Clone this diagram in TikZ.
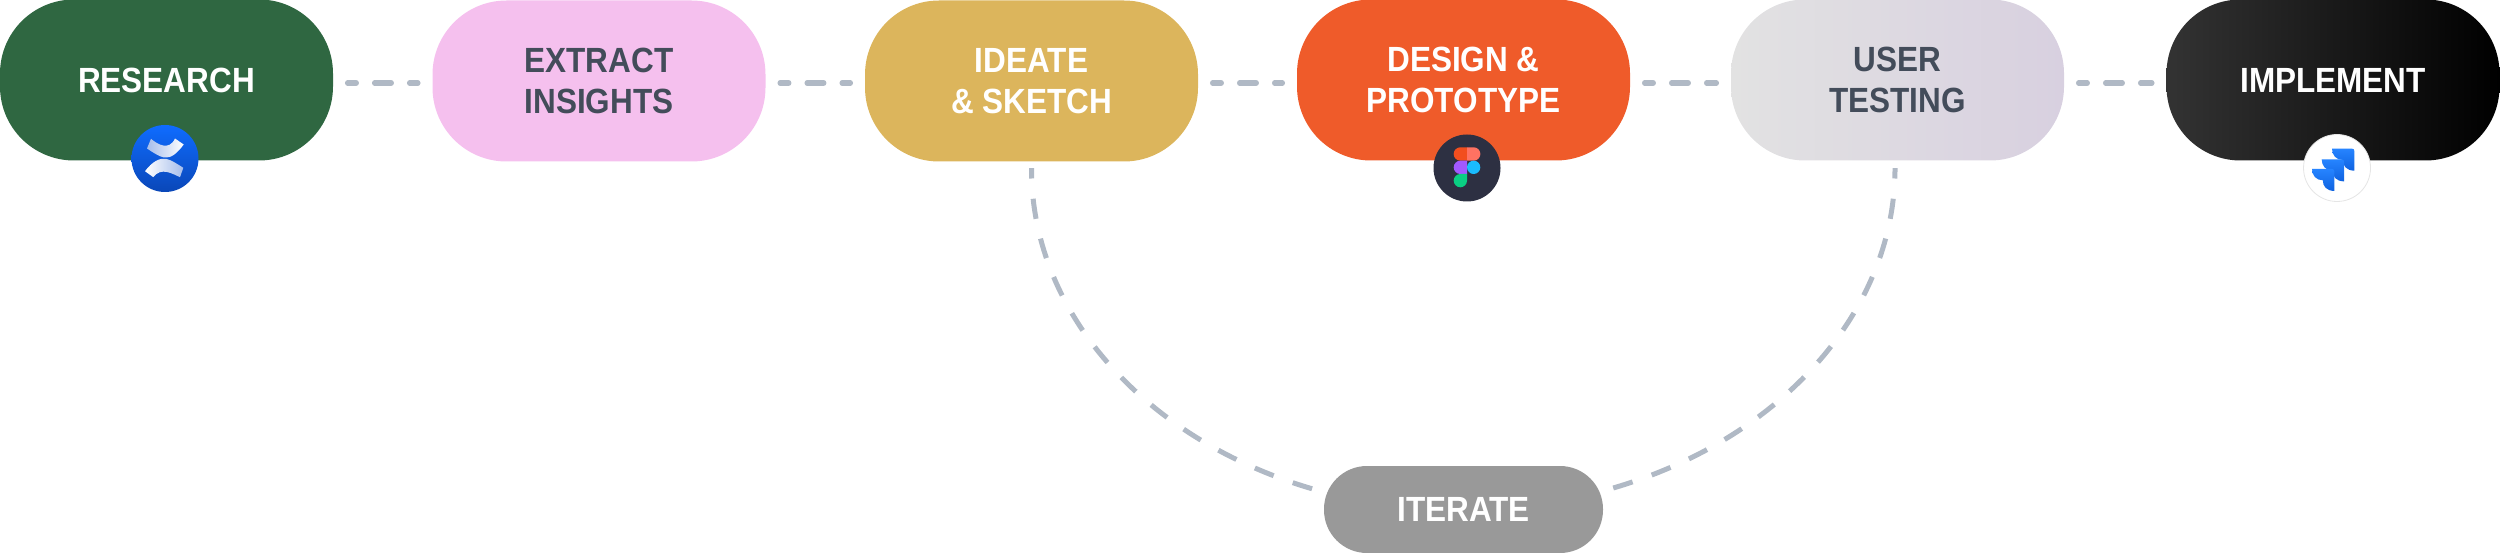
\documentclass[tikz,border=0pt]{standalone}
\usepackage{fontspec}
\setmainfont[FakeStretch=0.9]{Liberation Sans}
\usepackage{tikz}
\definecolor{greenbox}{HTML}{2F6741}
\definecolor{pinkbox}{HTML}{F5C0EE}
\definecolor{yellowbox}{HTML}{DCB55C}
\definecolor{orangebox}{HTML}{EF5B2A}
\definecolor{greybox}{HTML}{999999}
\definecolor{testleft}{HTML}{E2E2E2}
\definecolor{testright}{HTML}{D8D0E0}
\definecolor{implleft}{HTML}{333333}
\definecolor{darktext}{HTML}{434C5A}
\definecolor{dashline}{HTML}{B0B9C5}
\definecolor{confllight}{HTML}{0F6CFF}
\definecolor{confldark}{HTML}{0A47B8}
\definecolor{ribbon}{HTML}{A5BDEB}
\definecolor{figdark}{HTML}{2D3042}
\definecolor{figred}{HTML}{F24E1E}
\definecolor{figsalmon}{HTML}{FF7262}
\definecolor{figpurple}{HTML}{A259FF}
\definecolor{figblue}{HTML}{1ABCFE}
\definecolor{figgreen}{HTML}{0ACF83}
\definecolor{jiralight}{HTML}{2684FF}
\definecolor{jiradark}{HTML}{0F62E0}
\tikzset{
  stage/.style={rectangle, rounded corners=74pt, inner sep=0pt, minimum width=333pt, minimum height=161pt,
    align=center, text=white, font=\fontsize{35}{41}\selectfont\bfseries},
  bond/.style={dashline, line width=5.5pt, line cap=round, shorten <=14.5pt, shorten >=14.5pt,
    dash pattern=on 16.5pt off 18.5pt, dash phase=8pt},
  bendline/.style={dashline, line width=5pt, dash pattern=on 20.3pt off 20.3pt, dash phase=10pt},
  badge/.style={circle, inner sep=0pt, minimum size=67pt},
  jiratab/.pic={
    \shade[top color=jiralight, bottom color=jiradark]
      (-5,-19.3) -- (15,-19.3) .. controls (16.5,-19.3) and (17.3,-18.5) .. (17.3,-17) -- (17.3,2.7)
      .. controls (9.5,2.5) and (5.8,-2) .. (5.8,-8) .. controls (-1,-8) and (-5,-13) .. (-5,-19.3) -- cycle;
  }
}

\begin{document}
\begin{tikzpicture}[x=1pt, y=-1pt]
  \useasboundingbox (0,0) rectangle (2500,553);
  \node[stage, fill=greenbox] (research) at (166.5,80) {RESEARCH};
  \node[stage, fill=pinkbox, text=darktext] (extract) at (599,81) {EXTRACT\\INSIGHTS};
  \node[stage, fill=yellowbox] (ideate) at (1031.5,81) {IDEATE\\\& SKETCH};
  \node[stage, fill=orangebox] (design) at (1463.5,80) {DESIGN \&\\PROTOTYPE};
  \node[stage, left color=testleft, right color=testright, text=darktext] (testing) at (1897.5,80) {USER\\TESTING};
  \node[stage, left color=implleft, right color=black] (implement) at (2333,80) {IMPLEMENT};
  \node[stage, fill=greybox, minimum width=279pt, minimum height=87pt, rounded corners=43pt] (iterate) at (1463.5,509.5) {ITERATE};
  % links
  \draw[bond] ([yshift=-3pt]research.east) -- ([yshift=-2pt]extract.west);
  \draw[bond] ([yshift=-2pt]extract.east) -- ([yshift=-2pt]ideate.west);
  \draw[bond] ([yshift=-2pt]ideate.east) -- ([yshift=-3pt]design.west);
  \draw[bond] ([yshift=-3pt]design.east) -- ([yshift=-3pt]testing.west);
  \draw[bond] ([yshift=-3pt]testing.east) -- ([yshift=-3pt]implement.west);
  % loop
  \draw[bendline] ([yshift=-6.5pt]ideate.south) .. controls (1031,311) and (1143,439) .. ([shift={(-11pt,20.5pt)}]iterate.west);
  \draw[bendline] ([shift={(-2.5pt,-7.5pt)}]testing.south) .. controls (1895,311) and (1781,439) .. ([shift={(10pt,21.5pt)}]iterate.east);
  % confluence
  \node[badge, top color=confllight, bottom color=confldark] (confluence) at (165,158.5) {};
  \begin{scope}[shift={(confluence.center)}]
    \shade[left color=ribbon, right color=white]
      (-14,-19.7) .. controls (-8,-14.5) and (4,-7) .. (10,-20) -- (18.7,-14) .. controls (12,-5) and (6,0) .. (-1,-1)
      .. controls (-6,-2) and (-12,-6) .. (-18,-10) -- cycle;
    \shade[left color=white, right color=ribbon]
      (15,18.7) .. controls (8,15.5) and (-4,8) .. (-11.7,18.7) -- (-20,12.7) .. controls (-13,3.5) and (-6,-0.7) .. (1,0.3)
      .. controls (6,1.3) and (12,5.3) .. (18.3,9.3) -- cycle;
  \end{scope}
  % figma
  \node[badge, fill=figdark] (figma) at (1467,168) {};
  \begin{scope}[shift={(figma.center)}]
    \fill[figred] (0,-20.7) -- (0,-7.3) -- (-6.65,-7.3) arc[start angle=90, delta angle=180, radius=6.7] -- cycle;
    \fill[figsalmon] (0,-20.7) -- (0,-7.3) -- (6.65,-7.3) arc[start angle=90, delta angle=-180, radius=6.7] -- cycle;
    \fill[figpurple] (0,-7.3) -- (0,6) -- (-6.65,6) arc[start angle=90, delta angle=180, radius=6.65] -- cycle;
    \fill[figblue] (6.65,-0.65) circle[radius=6.65];
    \fill[figgreen] (0,6) -- (0,12.65) arc[start angle=0, delta angle=270, radius=6.65] -- cycle;
  \end{scope}
  % jira
  \node[badge, fill=white, draw=black!10, line width=0.8pt] (jira) at (2337,168) {};
  \pic at (jira.center) {jiratab};
  \pic at ([shift={(-10.3pt,-10.7pt)}]jira.center) {jiratab};
  \pic at ([shift={(-20pt,-20.3pt)}]jira.center) {jiratab};
\end{tikzpicture}
\end{document}
